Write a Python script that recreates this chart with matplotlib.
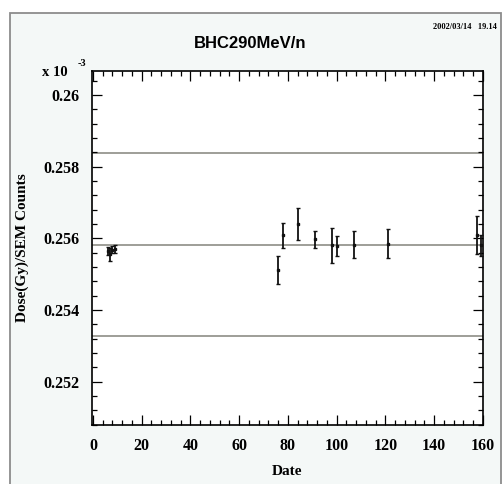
import matplotlib
matplotlib.use("Agg")
import matplotlib.pyplot as plt
from matplotlib.ticker import MultipleLocator, FormatStrFormatter
from matplotlib.patches import Rectangle

# Calibration measurements (dose per SEM count, in units of 1e-3)
days = [6, 7, 8, 9, 76, 78, 84, 91, 98, 100, 107, 121, 157.5, 159]
ratio = [0.25565, 0.25555, 0.25568, 0.25570, 0.25511, 0.25608, 0.25639,
         0.25597, 0.25580, 0.25578, 0.25582, 0.25585, 0.25608, 0.25580]
ratio_err = [0.00012, 0.00018, 0.00010, 0.00010, 0.00039, 0.00035, 0.00045,
             0.00024, 0.00050, 0.00028, 0.00038, 0.00040, 0.00053, 0.00028]

mean_ratio = 0.25582
band = 0.01  # +-1 % tolerance band

title = "BHC290MeV/n"
stamp = "2002/03/14   19.14"

W, H, DPI = 503, 484, 100
fig = plt.figure(figsize=(W / DPI, H / DPI), dpi=DPI)
fig.patch.set_facecolor("white")

# outer canvas frame
fig.add_artist(Rectangle((10 / W, -0.05), (491) / W, (1 - 13 / H) + 0.05,
                         transform=fig.transFigure, facecolor="#f4f8f7",
                         edgecolor="#8c8c8c", linewidth=1.3, zorder=0))

ax = fig.add_axes([92 / W, 1 - 425 / H, (483 - 92) / W, (425 - 71) / H])
ax.set_facecolor("white")

serif = ["Liberation Serif", "DejaVu Serif"]

ax.set_xlim(-0.4, 160)
ax.set_ylim(0.25079, 0.26067)

for level in (mean_ratio, mean_ratio * (1 + band), mean_ratio * (1 - band)):
    ax.axhline(level, color="#8e8e86", linewidth=1.2, zorder=1)

ax.errorbar(days, ratio, yerr=ratio_err, fmt="s", color="#111111",
            markersize=2.0, elinewidth=1.3, capsize=1.5, capthick=1.0,
            zorder=3)

ax.xaxis.set_major_locator(MultipleLocator(20))
ax.xaxis.set_minor_locator(MultipleLocator(4))
ax.yaxis.set_major_locator(MultipleLocator(0.002))
ax.yaxis.set_minor_locator(MultipleLocator(0.0004))
ax.yaxis.set_major_formatter(FormatStrFormatter("%g"))

ax.tick_params(which="both", direction="in", top=True, right=True,
               color="black", width=0.9)
ax.tick_params(which="major", length=7, pad=9)
ax.tick_params(which="minor", length=3.5)
for lab in ax.get_xticklabels() + ax.get_yticklabels():
    lab.set_family(serif)
    lab.set_fontsize(11.5)
    lab.set_fontweight("bold")
for sp in ax.spines.values():
    sp.set_linewidth(1.2)

ax.set_xlabel("Date", family=serif, fontsize=11, fontweight="bold",
              labelpad=8)
ax.set_ylabel("Dose(Gy)/SEM Counts", family=serif, fontsize=11,
              fontweight="bold", labelpad=10)

fig.text(250 / W, 1 - 43 / H, title, ha="center", va="center",
         fontsize=12, fontweight="bold", family="Liberation Sans")
fig.text(497 / W, 1 - 27 / H, stamp, ha="right", va="center",
         fontsize=6, fontweight="bold", family=serif)
fig.text(42 / W, 1 - 73 / H, "x 10", ha="left", va="center",
         fontsize=10.5, fontweight="bold", family=serif)
fig.text(78 / W, 1 - 63 / H, "-3", ha="left", va="center",
         fontsize=7.5, fontweight="bold", family=serif)

fig.savefig("out.png", dpi=DPI)
